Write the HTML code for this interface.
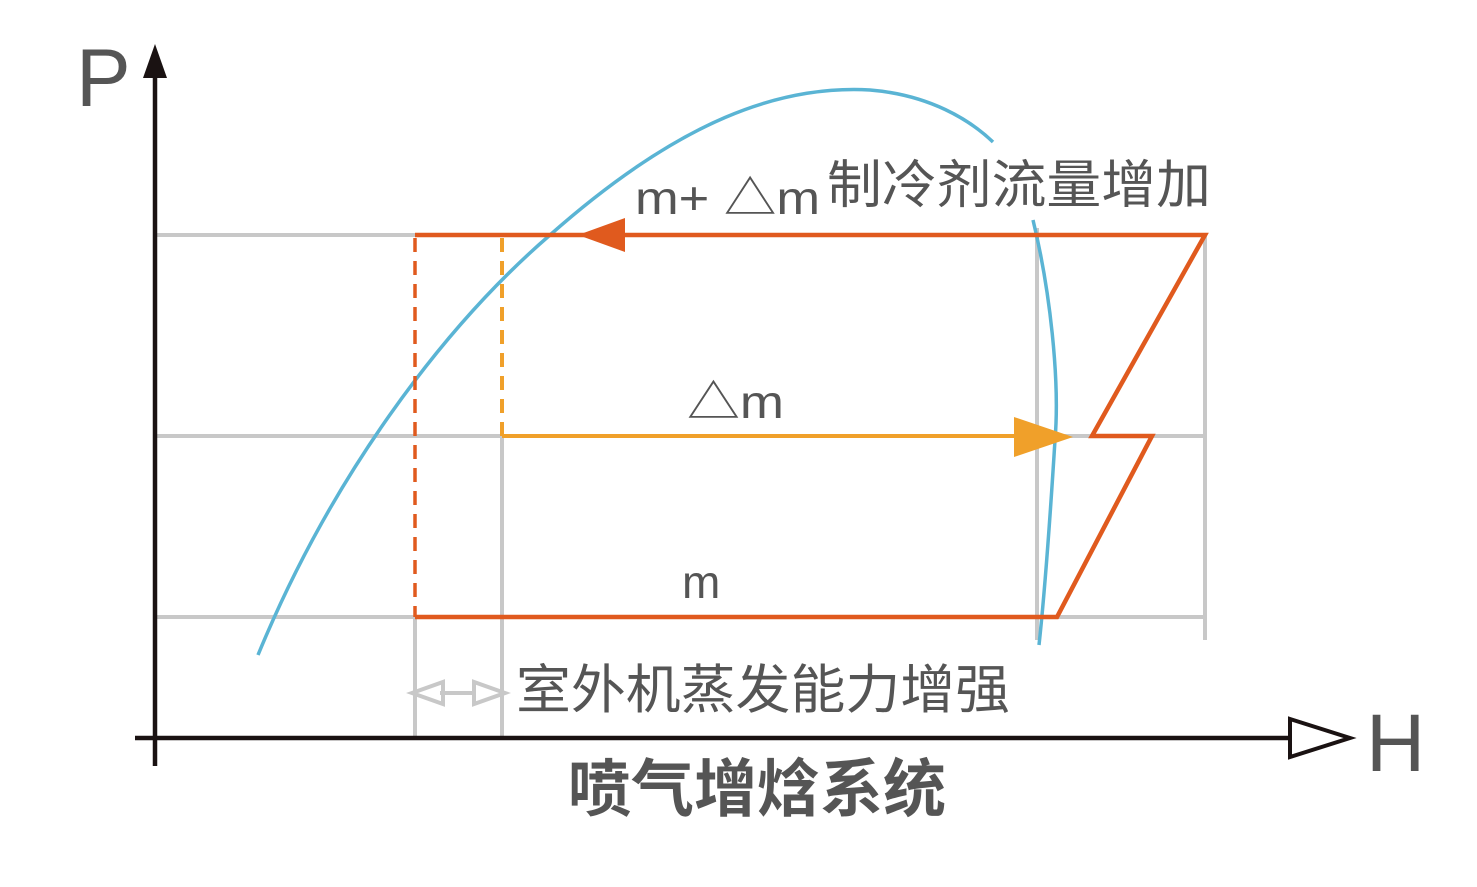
<!DOCTYPE html>
<html><head><meta charset="utf-8"><style>
html,body{margin:0;padding:0;background:#fff;}
svg{display:block}
text{font-family:"Liberation Sans","Noto Sans CJK SC",sans-serif;fill:#555;}
</style></head><body>
<svg width="1477" height="887" viewBox="0 0 1477 887" xmlns="http://www.w3.org/2000/svg">
<!-- gray guide lines -->
<g stroke="#c8c8c8" stroke-width="4" fill="none">
<line x1="155" y1="235" x2="415" y2="235"/>
<line x1="155" y1="436" x2="1205" y2="436"/>
<line x1="155" y1="617" x2="1205" y2="617"/>
<line x1="1037" y1="228" x2="1037" y2="640"/>
<line x1="1205" y1="235" x2="1205" y2="640"/>
<line x1="415" y1="617" x2="415" y2="738"/>
<line x1="502" y1="436" x2="502" y2="738"/>
</g>
<!-- double arrow -->
<g stroke="#c8c8c8" stroke-width="4" fill="none">
<line x1="440" y1="693" x2="475" y2="693"/>
<polygon points="412,693 443,682 443,704"/>
<polygon points="505,693 474,682 474,704"/>
</g>
<!-- blue curves -->
<path d="M258,655 C330,480 440,330 550,235 C680,120 780,85 870,90 C930,95 970,120 993,142" stroke="#5ab4d4" stroke-width="3.5" fill="none"/>
<path d="M1033,220 C1050,290 1060,380 1055,440 C1050,520 1045,590 1039,645" stroke="#5ab4d4" stroke-width="3.5" fill="none"/>
<!-- yellow -->
<line x1="502" y1="238" x2="502" y2="436" stroke="#f0a02a" stroke-width="4" stroke-dasharray="14,9"/>
<line x1="502" y1="436" x2="1020" y2="436" stroke="#f0a02a" stroke-width="4"/>
<polygon points="1014,417 1073,437 1014,457" fill="#f0a02a"/>
<!-- orange -->
<line x1="415" y1="238" x2="415" y2="617" stroke="#e05a1e" stroke-width="3.5" stroke-dasharray="14,9"/>
<polyline points="415,617 1057,617 1152,436 1092,436 1205,235 415,235" stroke="#e05a1e" stroke-width="4.5" fill="none" stroke-linejoin="miter"/>
<polygon points="578,235 625,218 625,252" fill="#e05a1e"/>
<!-- axes -->
<line x1="155" y1="70" x2="155" y2="766" stroke="#1a1212" stroke-width="4.5"/>
<polygon points="155,44 143,78 167,78" fill="#1a1212"/>
<line x1="135" y1="738" x2="1292" y2="738" stroke="#1a1212" stroke-width="4.5"/>
<polygon points="1290,719 1350,738 1290,757" fill="#fff" stroke="#1a1212" stroke-width="4"/>
<!-- text -->
<text x="76" y="106" font-size="82">P</text>
<text x="1366" y="771" font-size="82">H</text>
<text x="635" y="214" font-size="46" textLength="185" lengthAdjust="spacingAndGlyphs">m+ △m</text>
<text x="827" y="203" font-size="52" textLength="384" lengthAdjust="spacingAndGlyphs">制冷剂流量增加</text>
<text x="687" y="418" font-size="46" textLength="97" lengthAdjust="spacingAndGlyphs">△m</text>
<text x="682" y="598" font-size="46">m</text>
<text x="516" y="708" font-size="53" textLength="494" lengthAdjust="spacingAndGlyphs">室外机蒸发能力增强</text>
<text x="568" y="811" font-size="63" font-weight="bold" textLength="378" lengthAdjust="spacingAndGlyphs">喷气增焓系统</text>
</svg>
</body></html>
